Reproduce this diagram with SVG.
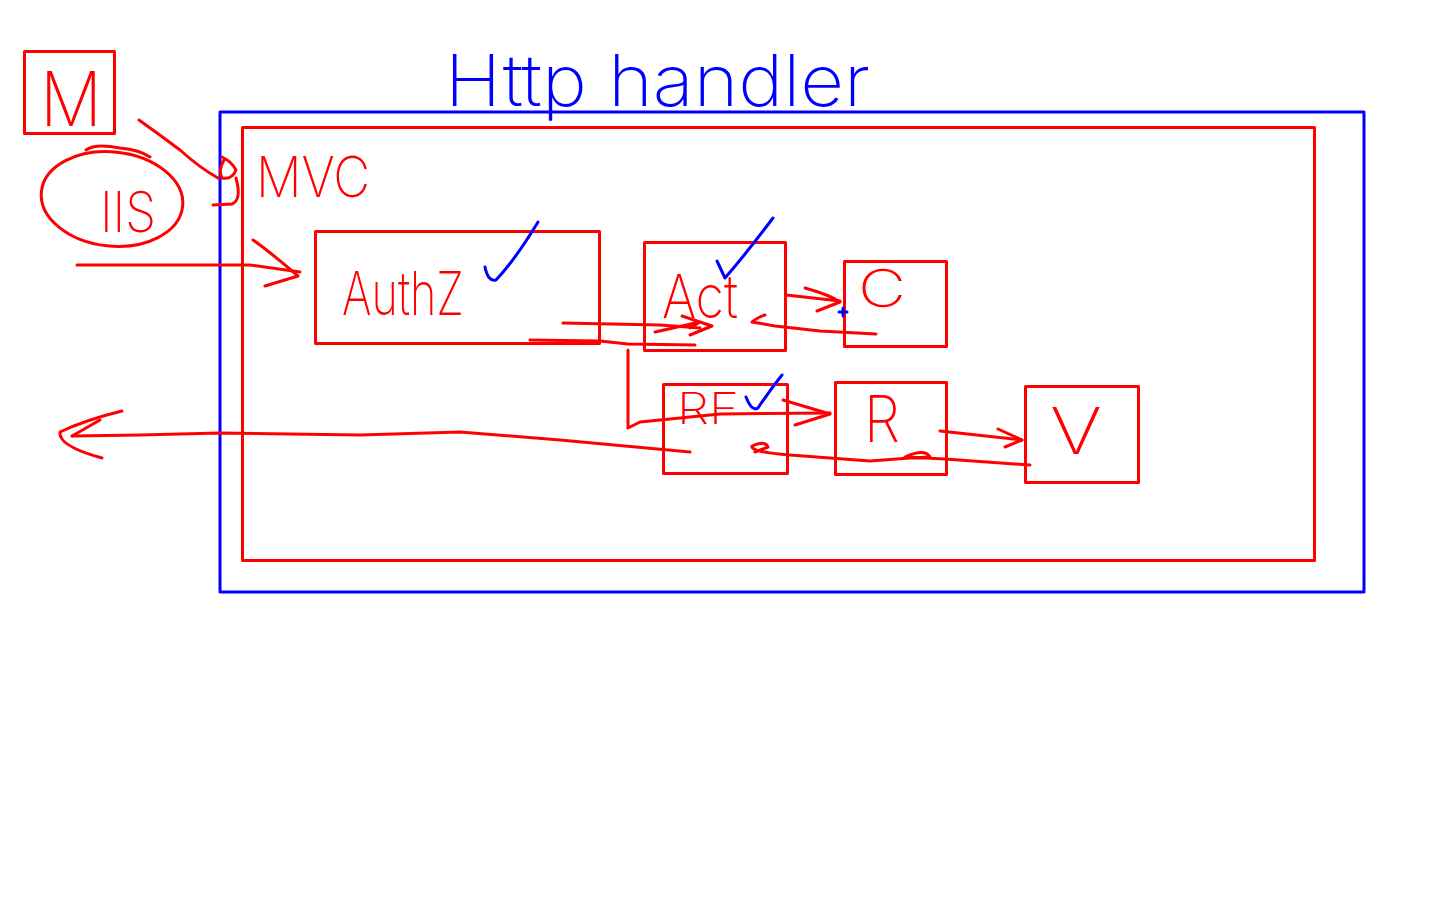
<svg xmlns="http://www.w3.org/2000/svg" width="1440" height="900" viewBox="0 0 1440 900">
<style>
.r{fill:none;stroke:#ff0000;stroke-width:3;stroke-linecap:round;stroke-linejoin:round}
.b{fill:none;stroke:#0000ff;stroke-width:3;stroke-linecap:round;stroke-linejoin:round}
.tr{fill:#ff0000;font-family:Inter,"Liberation Sans",Arial,sans-serif;font-weight:200}
.tb{fill:#0000ff;font-family:Inter,"Liberation Sans",Arial,sans-serif;font-weight:200}
</style>
<rect width="1440" height="900" fill="#ffffff"/>
<g id="http-handler">
<rect x="220" y="112" width="1144" height="480" class="b"/>
<text x="445" y="106" class="tb" font-size="72" textLength="425" lengthAdjust="spacingAndGlyphs">Http handler</text>
</g>
<g id="mvc">
<rect x="242.5" y="127.5" width="1072" height="433" class="r"/>
<text x="256" y="197" class="tr" font-size="56" textLength="114" lengthAdjust="spacingAndGlyphs">MVC</text>
</g>
<g id="m">
<rect x="24.5" y="51.5" width="90" height="82" class="r"/>
<text x="40" y="126" class="tr" font-size="76" textLength="62" lengthAdjust="spacingAndGlyphs">M</text>
</g>
<g id="iis">
<ellipse cx="112" cy="199" rx="71" ry="47" class="r" transform="rotate(6 112 199)"/>
<path d="M86 150 Q95 143 120 148 Q140 150 150 157" class="r"/>
<text x="100" y="232" class="tr" font-size="56" textLength="56" lengthAdjust="spacingAndGlyphs">IIS</text>
</g>
<g id="authz">
<rect x="315.5" y="231.5" width="284" height="112" class="r"/>
<text x="342" y="315" class="tr" font-size="60" textLength="122" lengthAdjust="spacingAndGlyphs">AuthZ</text>
<path d="M485 267 Q488 282 496 280 Q515 260 538 222" class="b"/>
</g>
<g id="act">
<rect x="644.5" y="242.5" width="141" height="108" class="r"/>
<text x="662" y="318" class="tr" font-size="60" textLength="76" lengthAdjust="spacingAndGlyphs">Act</text>
<path d="M717 261 L725 278 Q745 255 773 218" class="b"/>
</g>
<g id="c">
<rect x="844.5" y="261.5" width="102" height="85" class="r"/>
<text x="858" y="307" class="tr" font-size="52" textLength="48" lengthAdjust="spacingAndGlyphs">C</text>
</g>
<g id="rf">
<rect x="663.5" y="384.5" width="124" height="89" class="r"/>
<text x="677" y="424" class="tr" font-size="44" textLength="62" lengthAdjust="spacingAndGlyphs">RF</text>
<path d="M746 397 Q752 412 758 408 Q770 390 782 375" class="b"/>
</g>
<g id="r">
<rect x="835.5" y="382.5" width="111" height="92" class="r"/>
<text x="864" y="442" class="tr" font-size="64" textLength="36" lengthAdjust="spacingAndGlyphs">R</text>
</g>
<g id="v">
<rect x="1025.5" y="386.5" width="113" height="96" class="r"/>
<text x="1050" y="454" class="tr" font-size="64" textLength="52" lengthAdjust="spacingAndGlyphs">V</text>
</g>
<g id="connectors">
<path d="M139 120 Q160 135 180 150 Q200 168 218 178" class="r"/>
<path d="M222 157 Q232 162 236 170 Q232 180 222 178 Q218 170 224 160 M236 178 Q242 200 232 204 L213 205" class="r"/>
<path d="M77 265 L250 265 L300 272" class="r"/>
<path d="M253 240 Q270 252 298 276 L265 286" class="r"/>
<path d="M563 323 L660 325 L700 328" class="r"/>
<path d="M682 316 L712 326 L690 335 M655 332 L700 322 L690 328" class="r"/>
<path d="M530 340 L600 341 L628 344 L695 345" class="r"/>
<path d="M786 295 L840 301" class="r"/>
<path d="M805 288 Q830 295 840 302 L817 311" class="r"/>
<path d="M876 334 L820 331 L775 326 L752 322 Q760 316 765 315" class="r"/>
<path d="M628 350 L628 428 L640 422 L720 414 L830 413" class="r"/>
<path d="M783 400 L830 414 L795 425" class="r"/>
<path d="M940 431 L1022 440" class="r"/>
<path d="M998 429 L1022 440 L1005 447" class="r"/>
<path d="M1030 465 L945 459 L905 457 Q925 448 930 457 L910 458 L870 461 L790 455 Q750 452 752 446 Q765 440 768 447 L755 452" class="r"/>
<path d="M690 452 L560 440 L460 432 L360 435 L220 433 L140 435 L72 436" class="r"/>
<path d="M122 411 Q85 420 60 432 Q58 446 102 458" class="r"/>
<path d="M72 436 L100 420" class="r"/>
<path d="M843 308 L843 316 M839 312 L847 312" class="b" stroke-width="1.5"/>
</g>
</svg>
